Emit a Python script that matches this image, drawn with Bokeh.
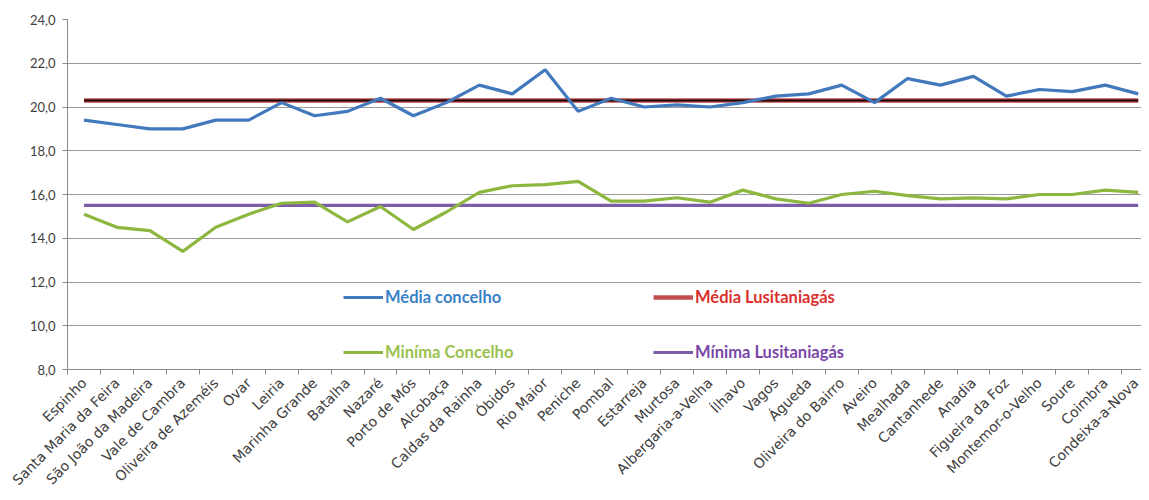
from bokeh.plotting import figure
from bokeh.models import Range1d, FixedTicker, Legend, LegendItem
from bokeh.embed import file_html
from bokeh.resources import INLINE
import math

municipios = ["Espinho", "Santa Maria da Feira", "São João da Madeira", "Vale de Cambra",
              "Oliveira de Azeméis", "Ovar", "Leiria", "Marinha Grande", "Batalha", "Nazaré",
              "Porto de Mós", "Alcobaça", "Caldas da Rainha", "Óbidos", "Rio Maior", "Peniche",
              "Pombal", "Estarreja", "Murtosa", "Albergaria-a-Velha", "Ílhavo", "Vagos", "Águeda",
              "Oliveira do Bairro", "Aveiro", "Mealhada", "Cantanhede", "Anadia", "Figueira da Foz",
              "Montemor-o-Velho", "Soure", "Coimbra", "Condeixa-a-Nova"]

media_concelho = [19.4, 19.2, 19.0, 19.0, 19.4, 19.4, 20.2, 19.6, 19.8, 20.4,
                  19.6, 20.2, 21.0, 20.6, 21.7, 19.8, 20.4, 20.0, 20.1, 20.0,
                  20.2, 20.5, 20.6, 21.0, 20.2, 21.3, 21.0, 21.4, 20.5, 20.8,
                  20.7, 21.0, 20.6]

minima_concelho = [15.1, 14.5, 14.35, 13.4, 14.5, 15.1, 15.6, 15.65, 14.75, 15.45,
                   14.4, 15.2, 16.1, 16.4, 16.45, 16.6, 15.7, 15.7, 15.85, 15.65,
                   16.2, 15.8, 15.6, 16.0, 16.15, 15.95, 15.8, 15.85, 15.8, 16.0,
                   16.0, 16.2, 16.1]

media_lusitaniagas = 20.3
minima_lusitaniagas = 15.5

y_ticks = [8, 10, 12, 14, 16, 18, 20, 22, 24]

n = len(municipios)
xs = [i + 0.5 for i in range(n)]

p = figure(width=1141, height=496, output_backend="svg", toolbar_location=None,
           x_range=Range1d(0, n - 0.4), y_range=Range1d(8, 24),
           min_border_left=67, min_border_right=0, min_border_top=19, min_border_bottom=110)
p.outline_line_color = None
p.background_fill_color = "white"
p.border_fill_color = "white"

BLUE = "#4279BD"
RED = "#C0504D"
GREEN = "#8DB73F"
PURPLE = "#7E5DA8"

r_red = p.line(xs, [media_lusitaniagas] * n, line_color=RED, line_width=4.5)
p.line(xs, [media_lusitaniagas] * n, line_color="#1f0505", line_width=2)
r_purple = p.line(xs, [minima_lusitaniagas] * n, line_color=PURPLE, line_width=3.2)
r_green = p.line(xs, minima_concelho, line_color=GREEN, line_width=3.2)
r_blue = p.line(xs, media_concelho, line_color=BLUE, line_width=3.2)

# axes
p.xgrid.visible = False
p.ygrid.grid_line_color = "#9a9a9a"
p.ygrid.grid_line_width = 1

ya = p.yaxis[0]
ya.ticker = FixedTicker(ticks=y_ticks)
ya.major_label_overrides = {t: f"{t:.1f}".replace(".", ",") for t in y_ticks}
ya.axis_line_color = "#8a8a8a"
ya.major_tick_line_color = "#8a8a8a"
ya.major_tick_out = 5
ya.major_tick_in = 0
ya.minor_tick_line_color = None
ya.major_label_text_font = "Lato"
ya.major_label_text_font_size = "13px"
ya.major_label_text_color = "#404040"
ya.major_label_standoff = 7

xa = p.xaxis[0]
xa.ticker = FixedTicker(ticks=xs, minor_ticks=list(range(n + 1)))
xa.major_label_overrides = {x: m for x, m in zip(xs, municipios)}
xa.axis_line_color = "#8a8a8a"
xa.major_tick_out = 0
xa.major_tick_in = 0
xa.minor_tick_out = 5
xa.minor_tick_in = 0
xa.minor_tick_line_color = "#8a8a8a"
xa.major_label_orientation = math.pi / 4
xa.major_label_text_font = "DejaVu Sans"
xa.major_label_text_font_size = "14px"
xa.major_label_text_color = "#404040"
xa.major_label_standoff = 6

def add_legend(label, rend, color, loc):
    lg = Legend(items=[LegendItem(label=label, renderers=[rend])], location=loc,
                padding=0, margin=0, spacing=0, glyph_width=40, glyph_height=20,
                label_height=20, label_standoff=2,
                label_text_font="Lato", label_text_font_style="bold",
                label_text_font_size="16.5px", label_text_color=color,
                border_line_color=None, background_fill_alpha=0)
    p.add_layout(lg, "center")

add_legend("Média concelho", r_blue, "#3a82c6", (276, 62))
add_legend("Média Lusitaniagás", r_red, "#d9312b", (586, 62))
add_legend("Miníma Concelho", r_green, "#9bc24e", (276, 7))
add_legend("Mínima Lusitaniagás", r_purple, "#7a46a8", (586, 7))

open("out.html", "w").write(file_html(p, INLINE))
